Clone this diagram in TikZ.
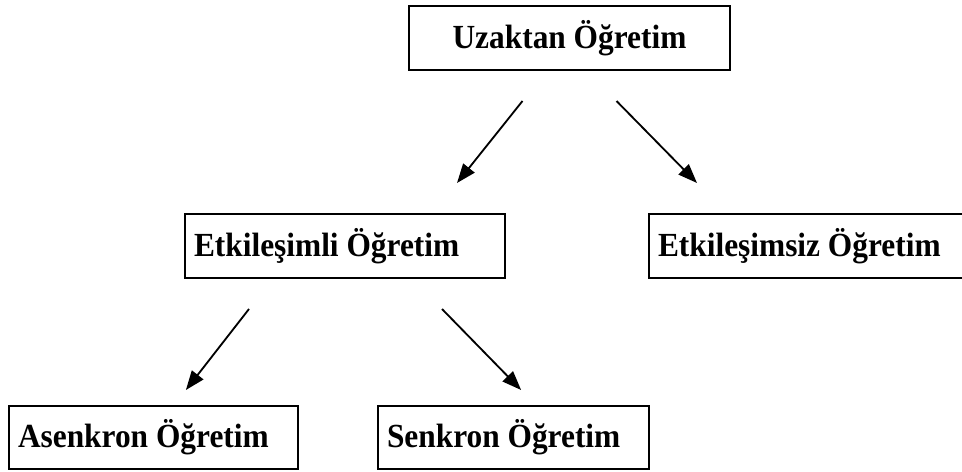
\documentclass[tikz,border=0pt]{standalone}
\usepackage{fontspec}
\setmainfont{Liberation Serif}[FakeStretch=0.93]
\usepackage{tikz}
\usetikzlibrary{arrows.meta}

\begin{document}
\begin{tikzpicture}[font=\fontsize{24}{28}\selectfont\bfseries]

% ---- Define Styles ----
\tikzset{
  topbox/.style={
    draw=black, line width=1.8pt, minimum height=1.6cm,
    align=center, outer sep=0pt, anchor=south west
  },
  leftbox/.style={
    draw=black, line width=1.8pt, minimum height=1.6cm, inner xsep=0.225cm,
    align=flush left, outer sep=0pt, anchor=south west
  },
  flow/.style={
    line width=1.3pt, -{Triangle[length=0.48cm, width=0.36cm]}
  }
}

% page size = 962 x 471 px (1 px = 0.025 cm)
\useasboundingbox (0,0) rectangle (24.05,11.775);

% =========================================================
% TOP LEVEL
% =========================================================
\node[topbox, minimum width=8.025cm] (uzak) at (10.225, 10.025) {Uzaktan Öğretim};

% =========================================================
% MIDDLE LEVEL
% Right box runs past the page edge (cut off on the right)
% =========================================================
\node[leftbox, text width=7.55cm]  (etk)    at (4.625, 4.825)  {Etkileşimli Öğretim};
\node[leftbox, text width=7.55cm]  (etksiz) at (16.225, 4.825) {Etkileşimsiz Öğretim};

% =========================================================
% BOTTOM LEVEL
% =========================================================
\node[leftbox, text width=6.775cm, minimum height=1.575cm] (asenk) at (0.225, 0.05) {Asenkron Öğretim};
\node[leftbox, text width=6.325cm, minimum height=1.575cm] (senk)  at (9.45, 0.05)  {Senkron Öğretim};

% =========================================================
% ARROWS (free-standing, with gaps to the boxes)
% =========================================================
\draw[flow] ([xshift=-1.175cm, yshift=-0.775cm]uzak.south) -- ([xshift=2.8cm, yshift=0.775cm]etk.north);
\draw[flow] ([xshift=1.175cm, yshift=-0.775cm]uzak.south) -- ([xshift=-2.8cm, yshift=0.775cm]etksiz.north);

\draw[flow] ([xshift=-2.4cm, yshift=-0.775cm]etk.south) -- ([xshift=0.81cm, yshift=0.4cm]asenk.north);
\draw[flow] ([xshift=2.425cm, yshift=-0.775cm]etk.south) -- ([xshift=0.19cm, yshift=0.4cm]senk.north);

\end{tikzpicture}
\end{document}
